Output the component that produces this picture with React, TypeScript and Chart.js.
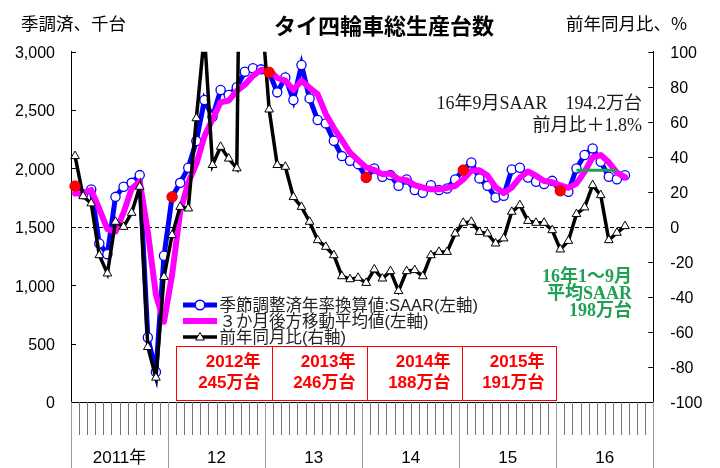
import React, { useEffect, useRef } from 'react';
import { Chart, registerables } from 'chart.js';

Chart.register(...registerables);

// ---------- data ----------
const YEARS = [2011, 2012, 2013, 2014, 2015, 2016];
const yearTickLabels = ['2011年', '12', '13', '14', '15', '16'];
const months: string[] = YEARS.flatMap((y) => Array.from({ length: 12 }, (_, m) => `${y}/${m + 1}`));

// 季節調整済年率換算値 SAAR (千台, left axis)
const saar = [
  1849, 1780, 1820, 1358, 1266, 1757, 1843, 1877, 1943, 552, 257, 1252,
  1757, 1877, 2006, 2235, 2586, 2443, 2672, 2629, 2695, 2829, 2858, 2849,
  2823, 2652, 2780, 2586, 2886, 2600, 2415, 2386, 2237, 2106, 2066, 2037,
  1923, 2000, 1929, 1943, 1851, 1906, 1815, 1791, 1857, 1815, 1829, 1906,
  1986, 2052, 1915, 1851, 1752, 1766, 1992, 2006, 1923, 1886, 1866, 1894,
  1809, 1800, 2000, 2115, 2172, 2057, 1929, 1908, 1942,
];

// 3か月後方移動平均値 (千台, left axis)
const ma3 = [
  1786, 1790, 1816, 1653, 1481, 1460, 1622, 1826, 1888, 1457, 917, 687,
  1089, 1629, 1880, 2039, 2276, 2421, 2567, 2581, 2665, 2718, 2794, 2845,
  2843, 2775, 2752, 2673, 2751, 2691, 2634, 2467, 2346, 2243, 2136, 2070,
  2009, 1987, 1951, 1957, 1908, 1900, 1857, 1837, 1821, 1821, 1834, 1850,
  1907, 1981, 1984, 1939, 1839, 1790, 1837, 1921, 1974, 1938, 1892, 1882,
  1856, 1834, 1870, 1972, 2096, 2115, 2053, 1965, 1926,
];

// 前年同月比 (%, right axis)
const yoy = [
  40.4, 17.5, 13.4, -16.2, -26.6, 2.9, 0, 8, 22.9, -68.6, -86.1, -28.6,
  -4.7, 11.4, 10.5, 62, 110, 35.3, 45.7, 39, 33.4, 412, 1012, 127,
  67, 35.3, 34.3, 17, 11.4, 2.9, -7.6, -11.4, -16.2, -28.2, -29.9, -29.1,
  -32, -24.3, -29.5, -25.3, -36.6, -25.3, -24.7, -28.2, -16.2, -14.3, -14.3, -3.8,
  2.3, 2.9, -2.9, -3.8, -9.5, -6.6, 8.6, 12.4, 3.4, 2.3, 2.3, -1.9,
  -12.9, -8, 7.3, 11.1, 23.8, 18.1, -7.6, -3.4, 0.4,
];

// 16年1～9月 平均SAAR line
const avg2016Value = 1985;
const avg2016From = 62;
const avg2016To = 67;

const annualLabels = ['2012年', '2013年', '2014年', '2015年'];
const annualTotals = ['245万台', '246万台', '188万台', '191万台'];

const titleText = 'タイ四輪車総生産台数';
const leftUnit = '季調済、千台';
const rightUnit = '前年同月比、%';
const legendLabels = ['季節調整済年率換算値:SAAR(左軸)', '３か月後方移動平均値(左軸)', '前年同月比(右軸)'];
const noteLines = ['16年9月SAAR　194.2万台', '前月比＋1.8%'];
const greenLines = ['16年1～9月', '平均SAAR', '198万台'];

// ---------- styling ----------
const SANS = '"Liberation Sans", "Noto Sans CJK JP", sans-serif';
const CJK = '"Noto Sans CJK JP", "Liberation Sans", sans-serif';
const SERIF = '"Liberation Serif", "Noto Sans CJK JP", serif';
const BLUE = '#0000ff';
const MAGENTA = '#ff00ff';
const GREEN = '#1fa052';
const RED = '#ff0000';

function drawTriangle(ctx: CanvasRenderingContext2D, x: number, y: number, r: number) {
  ctx.beginPath();
  ctx.moveTo(x, y - r);
  ctx.lineTo(x + r * 0.866, y + r * 0.5);
  ctx.lineTo(x - r * 0.866, y + r * 0.5);
  ctx.closePath();
  ctx.fillStyle = '#fff';
  ctx.fill();
  ctx.strokeStyle = '#000';
  ctx.lineWidth = 1;
  ctx.stroke();
}

const decorPlugin = {
  id: 'decor',
  beforeDatasetsDraw(chart: any) {
    const { ctx, chartArea } = chart;
    const y1 = chart.scales.y1;
    const yz = Math.round(y1.getPixelForValue(0)) + 0.5;
    ctx.save();
    ctx.setLineDash([4, 3]);
    ctx.strokeStyle = '#000';
    ctx.lineWidth = 1;
    ctx.beginPath();
    ctx.moveTo(chartArea.left, yz);
    ctx.lineTo(chartArea.right, yz);
    ctx.stroke();
    ctx.restore();
  },
  afterDraw(chart: any) {
    const { ctx, chartArea } = chart;
    const { left, right, bottom } = chartArea;
    const xs = chart.scales.x;
    const ys = chart.scales.y;
    const y1 = chart.scales.y1;
    ctx.save();

    // header texts
    ctx.textBaseline = 'middle';
    ctx.fillStyle = '#000';
    ctx.font = `bold 22px ${CJK}`;
    ctx.textAlign = 'center';
    ctx.fillText(titleText, 384, 26);
    ctx.font = `17.5px ${CJK}`;
    ctx.textAlign = 'left';
    ctx.fillText(leftUnit, 21, 23);
    ctx.fillText(rightUnit, 566, 23);

    // inward ticks on y axes
    ctx.strokeStyle = '#000';
    ctx.lineWidth = 1;
    for (let v = 0; v <= 3000; v += 500) {
      const py = Math.round(ys.getPixelForValue(v)) + 0.5;
      ctx.beginPath();
      ctx.moveTo(left, py);
      ctx.lineTo(left + 5, py);
      ctx.stroke();
    }
    for (let v = -100; v <= 100; v += 20) {
      const py = Math.round(y1.getPixelForValue(v)) + 0.5;
      ctx.beginPath();
      ctx.moveTo(right - 5, py);
      ctx.lineTo(right, py);
      ctx.stroke();
    }

    // x axis month ticks and year separators
    const w = (right - left) / months.length;
    for (let i = 0; i <= months.length; i++) {
      const px = i < months.length ? xs.getPixelForValue(i) - w / 2 : xs.getPixelForValue(i - 1) + w / 2;
      const sx = Math.round(px) + 0.5;
      ctx.beginPath();
      if (i % 12 === 0) {
        ctx.strokeStyle = '#9a9a9a';
        ctx.moveTo(sx, bottom);
        ctx.lineTo(sx, 468);
      } else {
        ctx.strokeStyle = '#777';
        ctx.moveTo(sx, bottom);
        ctx.lineTo(sx, 435);
      }
      ctx.stroke();
    }
    ctx.fillStyle = '#000';
    ctx.font = `17px ${SANS}`;
    ctx.textAlign = 'center';
    yearTickLabels.forEach((lab, k) => {
      const cx = (xs.getPixelForValue(k * 12 + 5) + xs.getPixelForValue(k * 12 + 6)) / 2;
      ctx.fillText(lab, cx, 458);
    });

    // legend
    const legendRows = [305, 321, 337];
    const lx0 = 183, lx1 = 217, lmx = 200;
    ctx.lineWidth = 5;
    ctx.strokeStyle = BLUE;
    ctx.beginPath();
    ctx.moveTo(lx0, legendRows[0]);
    ctx.lineTo(lx1, legendRows[0]);
    ctx.stroke();
    ctx.beginPath();
    ctx.arc(lmx, legendRows[0], 4.8, 0, Math.PI * 2);
    ctx.fillStyle = '#fff';
    ctx.fill();
    ctx.lineWidth = 1.5;
    ctx.stroke();
    ctx.lineWidth = 6;
    ctx.strokeStyle = MAGENTA;
    ctx.beginPath();
    ctx.moveTo(lx0, legendRows[1]);
    ctx.lineTo(lx1, legendRows[1]);
    ctx.stroke();
    ctx.lineWidth = 3.5;
    ctx.strokeStyle = '#000';
    ctx.beginPath();
    ctx.moveTo(lx0, legendRows[2]);
    ctx.lineTo(lx1, legendRows[2]);
    ctx.stroke();
    drawTriangle(ctx, lmx, legendRows[2] + 0.5, 5);

    ctx.fillStyle = '#222';
    ctx.font = `16.5px ${SANS}`;
    ctx.textAlign = 'left';
    ctx.textBaseline = 'middle';
    legendLabels.forEach((t, k) => ctx.fillText(t, 219.5, legendRows[k] + 1));

    // annual boxes
    const bx = [176, 272, 367, 462, 556];
    const bTop = 346, bBot = 400;
    ctx.strokeStyle = RED;
    ctx.lineWidth = 1;
    ctx.strokeRect(bx[0] + 0.5, bTop + 0.5, bx[4] - bx[0], bBot - bTop);
    for (let k = 1; k < 4; k++) {
      ctx.beginPath();
      ctx.moveTo(bx[k] + 0.5, bTop);
      ctx.lineTo(bx[k] + 0.5, bBot);
      ctx.stroke();
    }
    ctx.fillStyle = RED;
    ctx.font = `bold 17px ${SANS}`;
    ctx.textAlign = 'right';
    annualLabels.forEach((t, k) => {
      ctx.fillText(t, bx[k + 1] - 11.5, 362.5);
      ctx.fillText(annualTotals[k], bx[k + 1] - 11.5, 383.5);
    });

    // SAAR note
    ctx.fillStyle = '#1a1a1a';
    ctx.font = `18px ${SERIF}`;
    ctx.textAlign = 'right';
    ctx.fillText(noteLines[0], 642, 104);
    ctx.fillText(noteLines[1], 642, 126);

    // green note
    ctx.fillStyle = GREEN;
    ctx.font = `bold 18px ${SERIF}`;
    const gy = [277, 294.5, 311.5];
    greenLines.forEach((t, k) => ctx.fillText(t, 632, gy[k]));

    ctx.restore();
  },
};

export default function App() {
  const canvasRef = useRef<HTMLCanvasElement | null>(null);

  useEffect(() => {
    const canvas = canvasRef.current;
    if (!canvas) return;
    const janDots = months.map((_, i) => (i % 12 === 0 && i < saar.length ? saar[i] : null));
    const avgLine = months.map((_, i) => (i >= avg2016From && i <= avg2016To ? avg2016Value : null));

    const chart = new Chart(canvas, {
      type: 'line',
      data: {
        labels: months,
        datasets: [
          {
            label: 'jan',
            data: janDots,
            yAxisID: 'y',
            showLine: false,
            pointRadius: 5.4,
            pointBackgroundColor: RED,
            pointBorderColor: '#d00000',
            pointBorderWidth: 0.5,
          },
          {
            label: 'avg2016',
            data: avgLine,
            yAxisID: 'y',
            borderColor: GREEN,
            borderWidth: 3,
            pointRadius: 0,
            spanGaps: false,
          },
          {
            label: legendLabels[2],
            data: yoy,
            yAxisID: 'y1',
            borderColor: '#000',
            borderWidth: 3.5,
            pointStyle: 'triangle',
            pointRadius: 5,
            pointBackgroundColor: '#fff',
            pointBorderColor: '#000',
            pointBorderWidth: 1,
          },
          {
            label: legendLabels[1],
            data: ma3,
            yAxisID: 'y',
            borderColor: MAGENTA,
            borderWidth: 6,
            pointRadius: 0,
            borderJoinStyle: 'round',
            borderCapStyle: 'round',
          },
          {
            label: legendLabels[0],
            data: saar,
            yAxisID: 'y',
            borderColor: BLUE,
            borderWidth: 5,
            pointRadius: 4.6,
            pointBackgroundColor: '#fff',
            pointBorderColor: BLUE,
            pointBorderWidth: 1.3,
          },
        ],
      },
      options: {
        responsive: false,
        animation: false,
        devicePixelRatio: 1,
        layout: { padding: { top: 51.7, left: 0, right: 0, bottom: 0 } },
        plugins: {
          legend: { display: false },
          title: { display: false },
          tooltip: { enabled: false },
        },
        elements: { line: { tension: 0 } },
        scales: {
          x: {
            type: 'category',
            offset: true,
            grid: { display: false },
            ticks: { display: false },
            border: { display: true, color: '#000', width: 1 },
            afterFit: (s: any) => {
              s.height = 66;
            },
          },
          y: {
            position: 'left',
            min: 0,
            max: 3000,
            ticks: {
              stepSize: 500,
              padding: 16,
              labelOffset: 2,
              color: '#000',
              font: { family: SANS, size: 16 },
              callback: (v: any) => Number(v).toLocaleString('en-US'),
            },
            grid: { drawOnChartArea: false, drawTicks: false },
            border: { display: true, color: '#000', width: 1 },
            afterFit: (s: any) => {
              s.width = 71;
            },
          },
          y1: {
            position: 'right',
            min: -100,
            max: 100,
            ticks: {
              stepSize: 20,
              padding: 17,
              labelOffset: 2,
              color: '#000',
              font: { family: SANS, size: 16 },
            },
            grid: { drawOnChartArea: false, drawTicks: false },
            border: { display: true, color: '#000', width: 1 },
            afterFit: (s: any) => {
              s.width = 66.7;
            },
          },
        },
      },
      plugins: [decorPlugin],
    });
    return () => chart.destroy();
  }, []);

  return (
    <div style={{ position: 'absolute', left: 0, top: 0, width: 720, height: 468, background: '#fff' }}>
      <canvas ref={canvasRef} width={720} height={468} style={{ width: 720, height: 468, display: 'block' }} />
    </div>
  );
}
